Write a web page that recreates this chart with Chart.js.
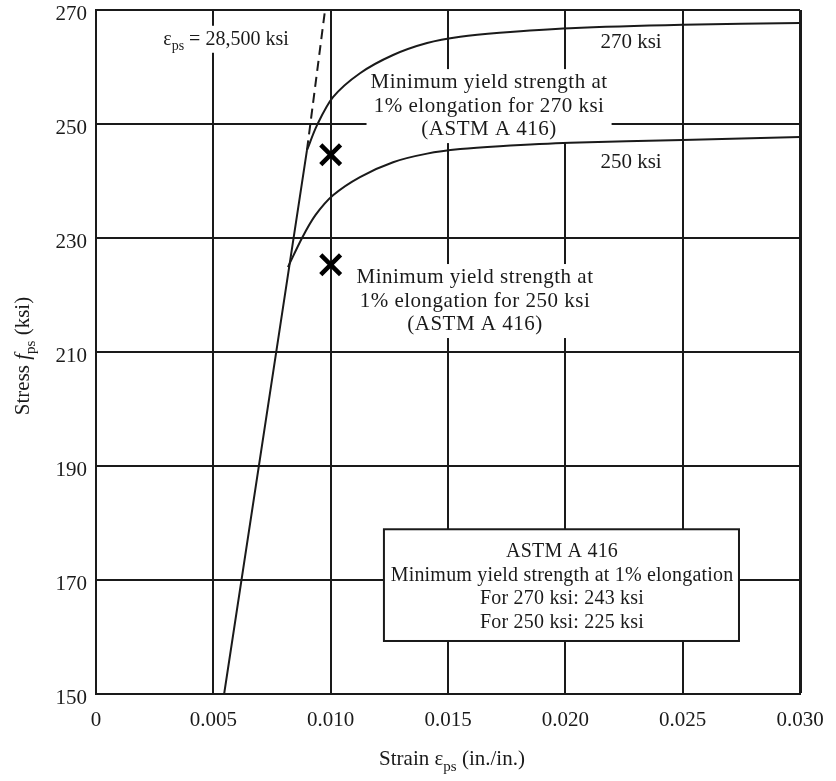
<html lang="en">
<head>
    <title>Stress-strain curves for prestressing strand</title>
    <script src="https://cdn.jsdelivr.net/npm/chart.js@4.4.1/dist/chart.umd.min.js"></script>
    <style>
        body { margin: 0; background: #fff; }
        canvas { display: block; }
    </style>
</head>
<body>
<canvas id="chart" width="836" height="781"></canvas>
<script>
    // values (strain in in./in., stress in ksi)
    const elasticStrain = [0.00546, 0.00899];
    const elasticStress = [150, 245.4];

    const dashedStrain = [0.00899, 0.00976];
    const dashedStress = [245.4, 270];

    const strain270 = [0.00899, 0.00942, 0.0101, 0.01125, 0.01266, 0.01411, 0.01552, 0.0172, 0.0202, 0.025, 0.030];
    const stress270 = [245.4, 249.8, 254.7, 258.9, 262.1, 264.2, 265.3, 266.0, 266.8, 267.4, 267.7];

    const strain250 = [0.00818, 0.00878, 0.00935, 0.0101, 0.01125, 0.01266, 0.01411, 0.01552, 0.0172, 0.0202, 0.025, 0.030];
    const stress250 = [224.9, 230.0, 234.0, 237.5, 240.7, 243.3, 244.8, 245.6, 246.1, 246.7, 247.2, 247.7];

    const yieldStrain = [0.010, 0.010];
    const yieldStress = [244.6, 225.3];

    const xTicks = [0, 0.005, 0.010, 0.015, 0.020, 0.025, 0.030];
    const yTicks = [150, 170, 190, 210, 230, 250, 270];

    const FONT = '"Liberation Serif", "Times New Roman", serif';
    const INK = '#1a1a1a';

    function pts(xs, ys) {
        return xs.map((x, i) => ({x: x, y: ys[i]}));
    }

    function fontFor(style, size) {
        if (style === 's') return Math.round(size * 0.7) + 'px ' + FONT;
        if (style === 'i') return 'italic ' + size + 'px ' + FONT;
        return size + 'px ' + FONT;
    }

    // text pieces: [text, style] with style '' normal, 's' subscript, 'i' italic
    function richWidth(ctx, parts, size, spacing) {
        ctx.letterSpacing = (spacing || 0) + 'px';
        let w = 0;
        parts.forEach(p => {
            ctx.font = fontFor(p[1], size);
            w += ctx.measureText(p[0]).width;
        });
        return w;
    }

    function drawRich(ctx, parts, cx, y, size, spacing) {
        let x = cx - richWidth(ctx, parts, size, spacing) / 2;
        ctx.textAlign = 'left';
        ctx.textBaseline = 'alphabetic';
        ctx.fillStyle = INK;
        parts.forEach(p => {
            ctx.font = fontFor(p[1], size);
            ctx.fillText(p[0], x, p[1] === 's' ? y + size * 0.28 : y);
            x += ctx.measureText(p[0]).width;
        });
        ctx.letterSpacing = '0px';
    }

    // floating notes, anchored in data units: centre strain, first baseline stress
    const notes = [
        {x: 0.00554, y: 263.9, size: 20, sp: 0, patch: true, lines: [[['ε', ''], ['ps', 's'], [' = 28,500 ksi', '']]]},
        {x: 0.0228, y: 263.3, size: 21, sp: 0, patch: false, lines: [[['270 ksi', '']]]},
        {x: 0.0228, y: 242.3, size: 21, sp: 0, patch: false, lines: [[['250 ksi', '']]]},
        {x: 0.01675, y: 256.3, size: 21, sp: 0.5, patch: true, lines: [
            [['Minimum yield strength at', '']],
            [['1% elongation for 270 ksi', '']],
            [['(ASTM A 416)', '']]]},
        {x: 0.01615, y: 222.1, size: 21, sp: 0.5, patch: true, lines: [
            [['Minimum yield strength at', '']],
            [['1% elongation for 250 ksi', '']],
            [['(ASTM A 416)', '']]]},
        {x: 0.01986, y: 174.0, size: 20, sp: 0.2, patch: false, lines: [
            [['ASTM A 416', '']],
            [['Minimum yield strength at 1% elongation', '']],
            [['For 270 ksi: 243 ksi', '']],
            [['For 250 ksi: 225 ksi', '']]]}
    ];
    const frame = {x0: 0.01227, x1: 0.0274, y0: 178.9, y1: 159.3};
    const LINE_H = 23.5;

    // pin the plot box to the same place as in the original figure
    const PLOT = {top: 10, right: 800};
    const pinArea = {
        id: 'pinArea',
        afterLayout(chart) {
            const a = chart.chartArea, xs = chart.scales.x, ys = chart.scales.y;
            a.top = PLOT.top;
            a.height = a.bottom - a.top;
            a.right = PLOT.right;
            a.width = a.right - a.left;
            ys.top = PLOT.top;
            ys.height = ys.bottom - ys.top;
            ys.configure();
            xs.right = PLOT.right;
            xs.width = xs.right - xs.left;
            xs.configure();
        }
    };

    const notesPlugin = {
        id: 'notes',
        beforeDatasetsDraw(chart) {
            const ctx = chart.ctx, xs = chart.scales.x, ys = chart.scales.y;
            ctx.save();
            ctx.fillStyle = '#fff';
            notes.forEach(n => {
                if (!n.patch) return;
                const cx = xs.getPixelForValue(n.x), by = ys.getPixelForValue(n.y);
                let w = 0;
                n.lines.forEach(l => { w = Math.max(w, richWidth(ctx, l, n.size, n.sp)); });
                const top = by - 19, bottom = by + (n.lines.length - 1) * LINE_H + 8;
                ctx.fillRect(cx - w / 2 - 4, top, w + 8, bottom - top);
            });
            ctx.letterSpacing = '0px';
            const fx0 = xs.getPixelForValue(frame.x0), fx1 = xs.getPixelForValue(frame.x1);
            const fy0 = ys.getPixelForValue(frame.y0), fy1 = ys.getPixelForValue(frame.y1);
            ctx.fillRect(fx0, fy0, fx1 - fx0, fy1 - fy0);
            ctx.strokeStyle = INK;
            ctx.lineWidth = 2;
            ctx.strokeRect(fx0, fy0, fx1 - fx0, fy1 - fy0);
            ctx.restore();
        },
        afterDatasetsDraw(chart) {
            const ctx = chart.ctx, xs = chart.scales.x, ys = chart.scales.y;
            ctx.save();
            notes.forEach(n => {
                const cx = xs.getPixelForValue(n.x), by = ys.getPixelForValue(n.y);
                n.lines.forEach((l, i) => drawRich(ctx, l, cx, by + i * LINE_H, n.size, n.sp));
            });
            // axis titles with subscripts
            drawRich(ctx, [['Strain ε', ''], ['ps', 's'], [' (in./in.)', '']], 452, 765, 21, 0);
            ctx.translate(29, 356);
            ctx.rotate(-Math.PI / 2);
            drawRich(ctx, [['Stress ', ''], ['f', 'i'], ['ps', 's'], [' (ksi)', '']], 0, 0, 21, 0);
            ctx.restore();
        }
    };

    const lineStyle = {
        showLine: true,
        borderColor: INK,
        borderWidth: 2,
        pointRadius: 0,
        tension: 0.3,
        fill: false
    };

    new Chart(document.getElementById('chart'), {
        type: 'scatter',
        data: {
            datasets: [
                Object.assign({label: 'elastic', data: pts(elasticStrain, elasticStress)}, lineStyle),
                Object.assign({label: 'modulus', data: pts(dashedStrain, dashedStress), borderDash: [10, 6]}, lineStyle),
                Object.assign({label: '270 ksi', data: pts(strain270, stress270)}, lineStyle),
                Object.assign({label: '250 ksi', data: pts(strain250, stress250)}, lineStyle),
                {
                    label: 'yield', data: pts(yieldStrain, yieldStress), showLine: false,
                    pointStyle: 'crossRot', pointRadius: 14, borderWidth: 4.5,
                    borderColor: '#000', backgroundColor: '#000'
                }
            ]
        },
        options: {
            responsive: false,
            animation: false,
            events: [],
            layout: {padding: {left: 0, top: 10, right: 36, bottom: 0}},
            plugins: {legend: {display: false}, tooltip: {enabled: false}},
            scales: {
                x: {
                    type: 'linear', min: 0, max: 0.030,
                    afterFit: s => { s.height = 87; },
                    afterBuildTicks: s => { s.ticks = xTicks.map(v => ({value: v})); },
                    border: {display: true, color: INK, width: 2},
                    grid: {
                        color: INK, drawTicks: false,
                        lineWidth: c => (c.tick && c.tick.value === 0.030 ? 3 : 2)
                    },
                    ticks: {
                        padding: 14, color: INK, font: {family: FONT, size: 21},
                        maxRotation: 0,
                        callback: v => (v === 0 ? '0' : v.toFixed(3))
                    }
                },
                y: {
                    type: 'linear', min: 150, max: 270,
                    afterFit: s => { s.width = 96; },
                    afterBuildTicks: s => { s.ticks = yTicks.map(v => ({value: v})); },
                    border: {display: true, color: INK, width: 2},
                    grid: {color: INK, drawTicks: false, lineWidth: 2},
                    ticks: {
                        padding: 9, color: INK, labelOffset: 4,
                        font: {family: FONT, size: 21}
                    }
                }
            }
        },
        plugins: [pinArea, notesPlugin]
    });
</script>
</body>
</html>
